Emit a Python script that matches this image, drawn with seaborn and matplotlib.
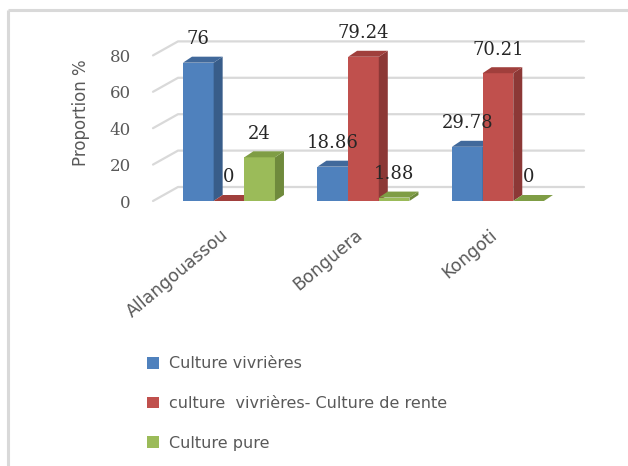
import pandas as pd
import seaborn as sns
import matplotlib.pyplot as plt
from matplotlib.patches import Polygon
from matplotlib.transforms import ScaledTranslation

sites = ["Allangouassou", "Bonguera", "Kongoti"]
series = ["Culture vivrières", "culture  vivrières- Culture de rente", "Culture pure"]
vivrieres = [76, 18.86, 29.78]
rente = [0, 79.24, 70.21]
pure = [24, 1.88, 0]
labels = [["76", "18.86", "29.78"], ["0", "79.24", "70.21"], ["24", "1.88", "0"]]

front = ["#4F81BD", "#C0504D", "#9BBB59"]
side = ["#385D8A", "#8C3836", "#6F8A3C"]
top = ["#41699B", "#A03F3C", "#7F9D45"]

df = pd.DataFrame({
    "site": sites * 3,
    "type": [series[0]] * 3 + [series[1]] * 3 + [series[2]] * 3,
    "val": vivrieres + rente + pure,
})

sns.set_style("white")
plt.rcParams["font.family"] = ["DejaVu Sans"]

fig = plt.figure(figsize=(6.28, 4.66), dpi=100)
ax = fig.add_axes([153 / 628, 1 - 201 / 466, 431 / 628, 176 / 466])

sns.barplot(data=df, x="site", y="val", hue="type", palette=front, width=0.684,
            gap=0, saturation=1, legend=False, ax=ax, err_kws={"linewidth": 0})

xl = (-0.565, 2.64)
yl = (0, 96.7)
ax.set_xlim(*xl)
ax.set_ylim(*yl)

# px -> data
px_x = (xl[1] - xl[0]) / 431
px_y = (yl[1] - yl[0]) / 176
dx, dy = 9 * px_x, 6 * px_y

# back wall gridlines
wdx, wdy = 25 * px_x, 14 * px_y
for g in [0, 20, 40, 60, 80]:
    ax.plot([xl[0], xl[0] + wdx, xl[1]], [g, g + wdy, g + wdy], color="#D9D9D9",
            lw=1.6, zorder=0.5, clip_on=False)

# 3d faces
bars = []
for si, cont in enumerate(ax.containers):
    for ci, p in enumerate(cont.patches):
        bars.append((p.get_x(), si, ci, p))
bars.sort(key=lambda b: b[0])
for i, (x0, si, ci, p) in enumerate(bars):
    z = 2 + i * 0.1
    w = p.get_width()
    h = p.get_height()
    x1 = x0 + w
    p.set_zorder(z)
    p.set_edgecolor("none")
    ax.add_patch(Polygon([(x1, 0), (x1 + dx, dy), (x1 + dx, h + dy), (x1, h)],
                         closed=True, fc=side[si], ec="none", zorder=z + 0.01))
    ax.add_patch(Polygon([(x0, h), (x0 + dx, h + dy), (x1 + dx, h + dy), (x1, h)],
                         closed=True, fc=top[si], ec="none", zorder=z + 0.02))
    ax.annotate(labels[si][ci], (x0 + w / 2, h), xytext=(0, 17), textcoords="offset points",
                ha="center", va="center", fontsize=13, family="DejaVu Serif",
                color="#262626", zorder=10)

sns.despine(ax=ax, left=True, bottom=True)
ax.set_yticks([0, 20, 40, 60, 80])
ax.tick_params(axis="y", length=0, pad=16, labelsize=12, labelcolor="#595959")
ax.tick_params(axis="x", length=0, pad=23, labelsize=12.5, labelcolor="#595959")
for t in ax.get_yticklabels():
    t.set_family("DejaVu Serif")
shift = ScaledTranslation(-3 / 100, 0, fig.dpi_scale_trans)
for t in ax.get_xticklabels():
    t.set_rotation(40)
    t.set_ha("right")
    t.set_va("center")
    t.set_rotation_mode("anchor")
    t.set_transform(t.get_transform() + shift)
ax.set_xlabel("")
ax.set_ylabel("Proportion %", fontsize=12, color="#595959", labelpad=14)
ax.grid(False)

fig.legend(ax.containers, series, loc="upper left", bbox_to_anchor=(141 / 628, 1 - 350 / 466),
           frameon=False, fontsize=11.5, labelcolor="#595959", handlelength=0.75,
           handleheight=0.75, handletextpad=0.6, labelspacing=1.55, borderaxespad=0)

# border
fig.add_artist(plt.Line2D([8 / 628, 8 / 628], [0, 1 - 10 / 466], color="#D9D9D9", lw=2.2,
                          solid_capstyle="butt"))
fig.add_artist(plt.Line2D([8 / 628, 1], [1 - 10 / 466, 1 - 10 / 466], color="#D9D9D9", lw=2.2,
                          solid_capstyle="butt"))

fig.savefig("out.png", dpi=100, facecolor="white")
